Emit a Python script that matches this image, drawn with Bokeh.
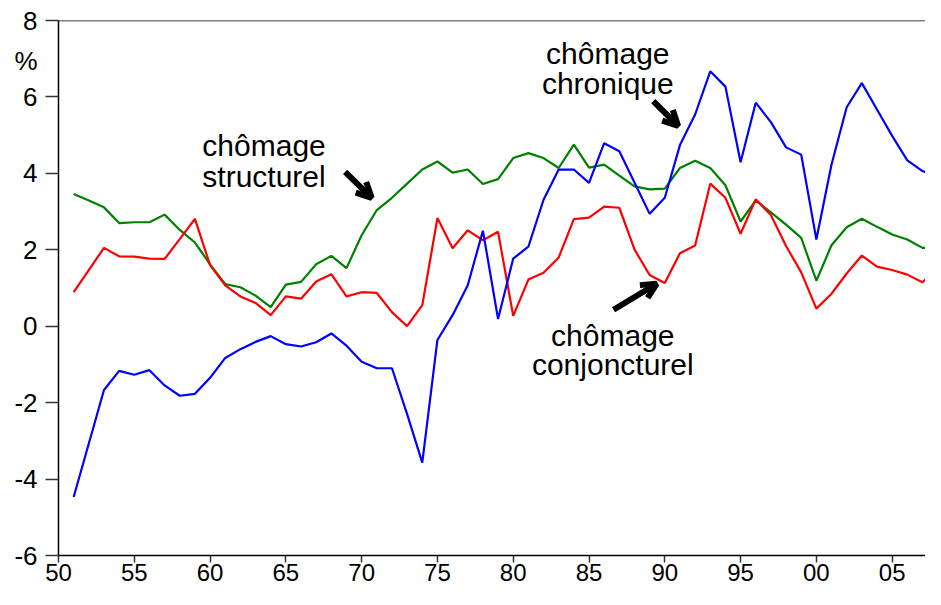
from bokeh.plotting import figure
from bokeh.models import Label, Arrow, OpenHead, Span, FixedTicker, Range1d, LinearAxis
from bokeh.embed import file_html
from bokeh.resources import INLINE

years = list(range(1951, 2009))

chronique = [-4.47, -3.07, -1.67, -1.17, -1.27, -1.15, -1.55, -1.82, -1.77, -1.35,
             -0.83, -0.60, -0.41, -0.26, -0.47, -0.53, -0.42, -0.19, -0.51, -0.93,
             -1.10, -1.10, -2.30, -3.57, -0.36, 0.29, 1.07, 2.50, 0.19, 1.77,
             2.08, 3.31, 4.10, 4.10, 3.75, 4.79, 4.58, 3.76, 2.94, 3.36,
             4.74, 5.54, 6.67, 6.27, 4.29, 5.85, 5.34, 4.68, 4.49, 2.27,
             4.23, 5.73, 6.36, 5.67, 4.98, 4.34, 4.06, 3.91]

structurel = [3.46, 3.29, 3.11, 2.70, 2.72, 2.72, 2.92, 2.52, 2.19, 1.62,
              1.10, 1.02, 0.80, 0.50, 1.09, 1.16, 1.62, 1.84, 1.52, 2.38,
              3.04, 3.36, 3.73, 4.10, 4.31, 4.02, 4.10, 3.72, 3.85, 4.40,
              4.53, 4.40, 4.14, 4.75, 4.15, 4.23, 3.94, 3.66, 3.58, 3.60,
              4.14, 4.33, 4.14, 3.69, 2.74, 3.29, 2.98, 2.66, 2.31, 1.19,
              2.12, 2.59, 2.81, 2.60, 2.40, 2.27, 2.05, 2.04]

conjoncturel = [0.89, 1.47, 2.05, 1.83, 1.82, 1.77, 1.76, 2.28, 2.81, 1.60,
                1.07, 0.78, 0.61, 0.29, 0.78, 0.72, 1.17, 1.36, 0.78, 0.89,
                0.87, 0.37, 0.00, 0.55, 2.83, 2.04, 2.51, 2.25, 2.47, 0.27,
                1.22, 1.40, 1.80, 2.80, 2.84, 3.13, 3.10, 2.01, 1.34, 1.13,
                1.91, 2.11, 3.73, 3.36, 2.42, 3.32, 2.91, 2.10, 1.41, 0.46,
                0.85, 1.38, 1.85, 1.56, 1.47, 1.35, 1.15, 1.54]

x_ticks = [1950, 1955, 1960, 1965, 1970, 1975, 1980, 1985, 1990, 1995, 2000, 2005]
x_tick_labels = ["50", "55", "60", "65", "70", "75", "80", "85", "90", "95", "00", "05"]
y_ticks = [-6, -4, -2, 0, 2, 4, 6, 8]
y_tick_labels = ["-6", "-4", "-2", "0", "2", "4", "6", "8"]
unit_label = "%"
unit_pos = 6.95

FONT = "Liberation Sans"

p = figure(width=925, height=589, output_backend="svg", toolbar_location=None,
           x_range=Range1d(1950, 2007.2), y_range=Range1d(-6, 8),
           min_border_left=58, min_border_top=20, min_border_bottom=34,
           min_border_right=0)
p.xgrid.visible = False
p.ygrid.visible = False
p.outline_line_color = None
p.background_fill_color = "white"

# x axis
xa = p.xaxis[0]
xa.ticker = FixedTicker(ticks=x_ticks)
xa.major_label_overrides = {t: s for t, s in zip(x_ticks, x_tick_labels)}
xa.axis_line_width = 1.5
xa.axis_line_color = "black"
xa.major_tick_line_color = "#333333"
xa.major_tick_line_width = 1.5
xa.major_tick_in = 0
xa.major_tick_out = 7
xa.minor_tick_line_color = None
xa.major_label_standoff = 1
xa.major_label_text_font = FONT
xa.major_label_text_font_size = "24px"
xa.major_label_text_color = "black"

# y axis: line + tick marks only (nearest the frame)
ya = p.yaxis[0]
ya.ticker = FixedTicker(ticks=y_ticks)
ya.major_label_overrides = {t: "" for t in y_ticks}
ya.major_label_text_font_size = "0px"
ya.major_label_standoff = 0
ya.axis_line_width = 1.5
ya.axis_line_color = "black"
ya.major_tick_line_color = "#333333"
ya.major_tick_line_width = 1.5
ya.major_tick_in = 0
ya.major_tick_out = 13
ya.minor_tick_line_color = None

# y axis: labels only (outside), including the unit sign
yl = LinearAxis(ticker=FixedTicker(ticks=y_ticks + [unit_pos]))
overrides = {t: s for t, s in zip(y_ticks, y_tick_labels)}
overrides[unit_pos] = unit_label
yl.major_label_overrides = overrides
yl.axis_line_color = None
yl.major_tick_line_color = None
yl.minor_tick_line_color = None
yl.major_tick_in = 0
yl.major_tick_out = 0
yl.major_label_standoff = 8
yl.major_label_text_font = FONT
yl.major_label_text_font_size = "26px"
yl.major_label_text_color = "black"
p.add_layout(yl, "left")

p.add_layout(Span(location=8, dimension="width", line_color="black", line_width=1.5))

p.line(years, structurel, line_color="#008000", line_width=2.2)
p.line(years, conjoncturel, line_color="#ff0000", line_width=2.2)
p.line(years, chronique, line_color="#0000ff", line_width=2.2)

def lab(x, y, t, align, size="30px"):
    p.add_layout(Label(x=x, y=y, text=t, text_align=align, text_baseline="alphabetic",
                       text_font=FONT, text_font_size=size, text_color="black"))

lab(1959.49, 4.74, "chômage", "left")
lab(1959.49, 3.91, "structurel", "left")
lab(1986.24, 7.14, "chômage", "center")
lab(1986.24, 6.36, "chronique", "center")
lab(1986.57, -0.23, "chômage", "center")
lab(1986.57, -1.00, "conjoncturel", "center")

for xs, ys, xe, ye in [(1968.91, 4.04, 1970.66, 3.36),
                       (1989.24, 5.89, 1990.88, 5.24),
                       (1986.62, 0.43, 1989.46, 1.11)]:
    p.add_layout(Arrow(x_start=xs, y_start=ys, x_end=xe, y_end=ye,
                       line_width=6, line_color="black",
                       end=OpenHead(size=15, line_width=6, line_color="black")))

open("out.html", "w").write(file_html(p, INLINE))
